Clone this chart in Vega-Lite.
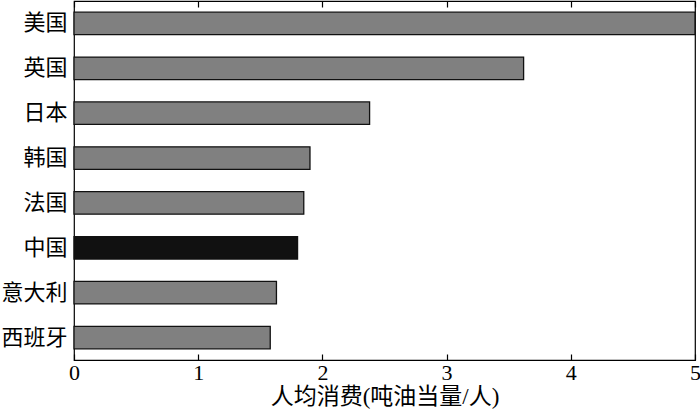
{
  "$schema": "https://vega.github.io/schema/vega-lite/v6.json",
  "width": 621,
  "height": 359,
  "autosize": {"type": "none"},
  "padding": {"left": 74, "top": 1, "right": 5, "bottom": 58},
  "background": "white",
  "config": {
    "view": {"stroke": "black", "strokeWidth": 1.2},
    "font": "Liberation Serif, Noto Sans CJK SC"
  },
  "data": {
    "values": [
      {"country": "美国", "value": 5.0, "group": "other"},
      {"country": "英国", "value": 3.62, "group": "other"},
      {"country": "日本", "value": 2.38, "group": "other"},
      {"country": "韩国", "value": 1.90, "group": "other"},
      {"country": "法国", "value": 1.85, "group": "other"},
      {"country": "中国", "value": 1.80, "group": "china"},
      {"country": "意大利", "value": 1.63, "group": "other"},
      {"country": "西班牙", "value": 1.58, "group": "other"}
    ]
  },
  "encoding": {
    "y": {
      "field": "country", "type": "nominal", "sort": null,
      "scale": {"paddingInner": 0.5, "paddingOuter": 0.25},
      "axis": {"title": null, "ticks": false, "domain": false, "labelFont": "Liberation Serif, Noto Sans CJK SC", "labelFontSize": 22, "labelColor": "black", "labelPadding": 7}
    }
  },
  "layer": [
    {
      "mark": {"type": "bar", "stroke": "#111111", "strokeWidth": 1.3},
      "encoding": {
        "x": {
          "field": "value", "type": "quantitative",
          "scale": {"domain": [0, 5], "nice": false, "clamp": true},
          "axis": {
            "orient": "bottom", "values": [0, 1, 2, 3, 4, 5], "grid": false,
            "tickSize": -6, "tickColor": "black", "tickWidth": 1.2,
            "domainColor": "black", "domainWidth": 1.2,
            "labelFontSize": 22, "labelColor": "black", "labelPadding": 8,
            "labelFlush": false,
            "title": "人均消费(吨油当量/人)", "titleFontSize": 23, "titleFontWeight": "normal",
            "titleColor": "black", "titlePadding": 2
          }
        },
        "color": {
          "field": "group", "type": "nominal",
          "scale": {"domain": ["other", "china"], "range": ["#808080", "#111111"]},
          "legend": null
        }
      }
    },
    {
      "mark": {"type": "bar", "opacity": 0},
      "encoding": {
        "x": {
          "field": "value", "type": "quantitative",
          "scale": {"domain": [0, 5], "nice": false, "clamp": true},
          "axis": {
            "orient": "top", "values": [0, 1, 2, 3, 4, 5], "grid": false,
            "tickSize": -6, "tickColor": "black", "tickWidth": 1.2,
            "domain": false, "labels": false, "title": null
          }
        }
      }
    }
  ],
  "resolve": {"axis": {"x": "independent"}}
}
